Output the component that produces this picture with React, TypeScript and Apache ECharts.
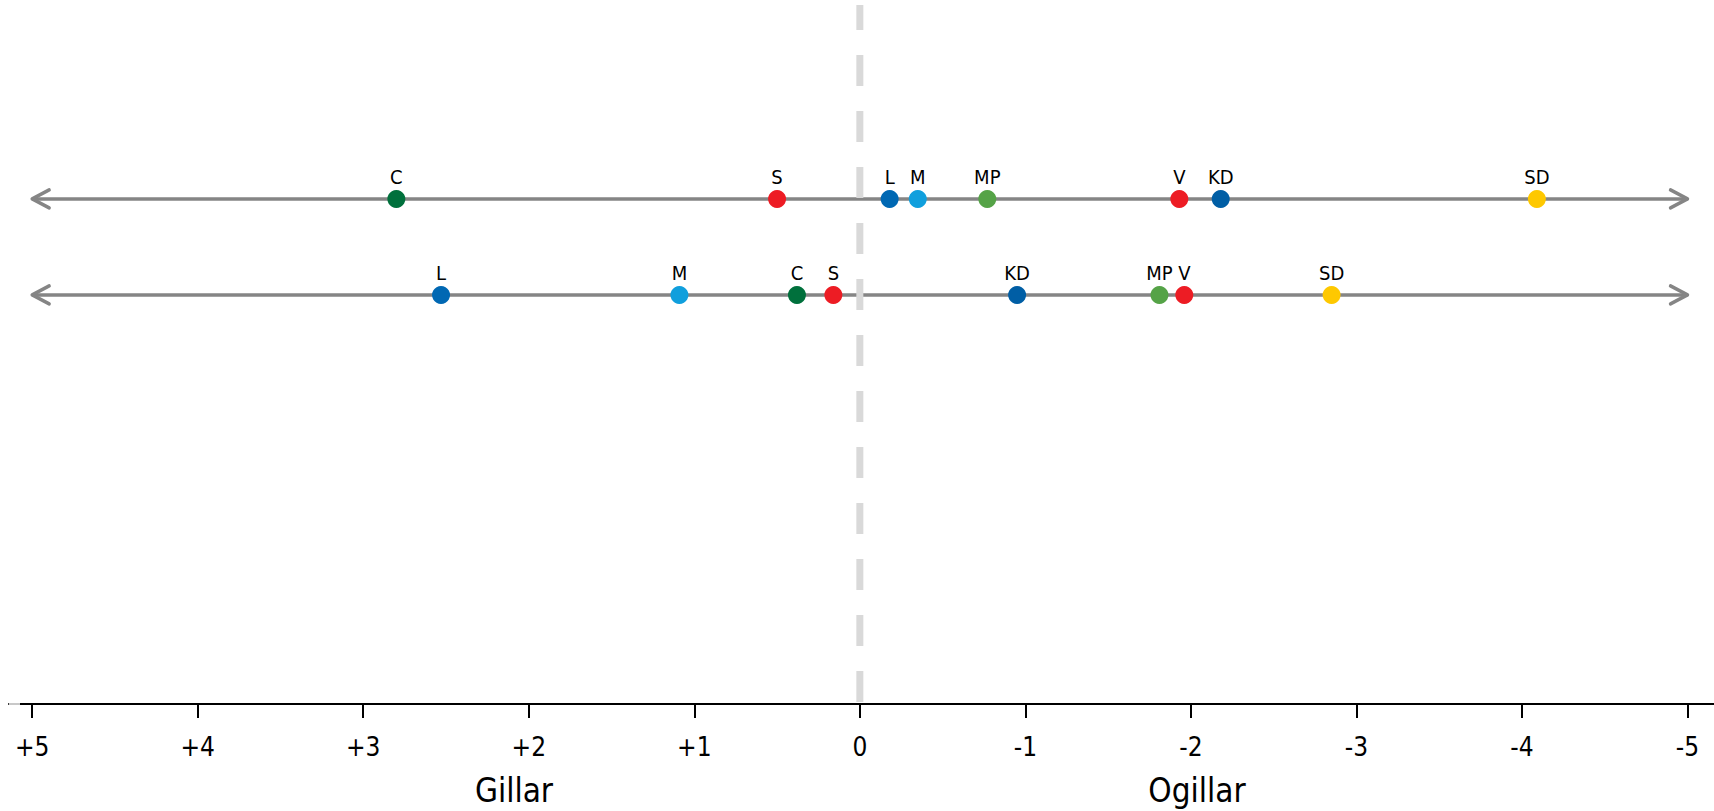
import React, { useEffect, useRef } from "react";
import * as echarts from "echarts";

// ---- data ----
const parties = ["C", "S", "L", "M", "MP", "V", "KD", "SD"];
const row1Values = [2.8, 0.5, -0.18, -0.35, -0.77, -1.93, -2.18, -4.09];
const row2Values = [0.38, 0.16, 2.53, 1.09, -1.81, -1.96, -0.95, -2.85];
const rowLevels = [2, 1];
const scaleEnds = [5, -5];
const tickValues = [5, 4, 3, 2, 1, 0, -1, -2, -3, -4, -5];
const sideLabels = ["Gillar", "Ogillar"];

// ---- styles ----
const partyColors = ["#00703c", "#ed1c24", "#0068b3", "#109fdd", "#55a347", "#ed1c24", "#005ea5", "#fec800"];
const X_MIN = -5.16;
const X_MAX = 5.14;
const Y_MIN = -3.26;
const Y_MAX = 4.02;
const NARROW = '"Liberation Sans Narrow", "Arial Narrow", "DejaVu Sans Condensed", sans-serif';
const ARROW_LEFT = "path://M18,0L0,9L18,18";
const ARROW_RIGHT = "path://M0,0L18,9L0,18";

export default function App() {
  const ref = useRef<HTMLDivElement>(null);

  useEffect(() => {
    document.body.style.margin = "0";
    if (!ref.current) return;
    const chart = echarts.init(ref.current, undefined, { renderer: "svg" });

    const rowLineSeries = rowLevels.map((lvl) => ({
      type: "line",
      data: scaleEnds.map((v) => [v, lvl]),
      showSymbol: false,
      symbol: "none",
      silent: true,
      z: 2,
      lineStyle: { color: "#858585", width: 3.5 },
    }));

    const arrowData: any[] = [];
    rowLevels.forEach((lvl) => {
      arrowData.push({ value: [scaleEnds[0], lvl], symbol: ARROW_LEFT, symbolOffset: [8.5, 0] });
      arrowData.push({ value: [scaleEnds[1], lvl], symbol: ARROW_RIGHT, symbolOffset: [-8.5, 0] });
    });

    const partySeries = parties.map((p, i) => ({
      type: "scatter",
      name: p,
      z: 5,
      symbol: "circle",
      symbolSize: 18,
      silent: true,
      itemStyle: { color: partyColors[i], opacity: 1 },
      label: {
        show: true,
        position: "top",
        distance: 3,
        formatter: "{a}",
        color: "#000",
        fontSize: 20,
        fontFamily: NARROW,
      },
      data: [
        [row1Values[i], rowLevels[0]],
        [row2Values[i], rowLevels[1]],
      ],
    }));

    chart.setOption({
      animation: false,
      backgroundColor: "#ffffff",
      grid: { left: 9, right: 0, top: 5, bottom: 107, containLabel: false },
      xAxis: {
        type: "value",
        min: X_MIN,
        max: X_MAX,
        inverse: true,
        splitLine: { show: false },
        axisLine: { show: true, onZero: false, lineStyle: { color: "#000", width: 2 } },
        axisTick: { show: true, customValues: tickValues, length: 14, lineStyle: { color: "#000", width: 2 } },
        axisLabel: {
          show: true,
          customValues: tickValues,
          margin: 30,
          fontSize: 26,
          fontFamily: '"DejaVu Sans Condensed", "Liberation Sans", sans-serif',
          color: "#000",
          formatter: (v: number) => (v > 0 ? "+" + v : String(v)),
        },
      },
      yAxis: {
        type: "value",
        min: Y_MIN,
        max: Y_MAX,
        splitLine: { show: false },
        axisLine: { show: false, onZero: false },
        axisLabel: { show: false },
        axisTick: { show: true, inside: true, length: 11, customValues: [Y_MIN], lineStyle: { color: "#c8c8c8", width: 2 } },
      },
      series: [
        ...rowLineSeries,
        {
          type: "line",
          data: [
            [0, Y_MIN],
            [0, Y_MAX],
          ],
          showSymbol: false,
          symbol: "none",
          silent: true,
          z: 3,
          lineStyle: { color: "#d9d9d9", width: 7, type: [31, 25], dashOffset: 54 },
        },
        {
          type: "scatter",
          data: arrowData,
          symbolSize: [17, 18],
          silent: true,
          z: 4,
          itemStyle: {
            color: "rgba(0,0,0,0)",
            borderColor: "#858585",
            borderWidth: 3.5,
            borderJoin: "round",
            borderCap: "round",
            opacity: 1,
          },
        },
        ...partySeries,
      ],
      graphic: [
        {
          type: "text",
          x: 514,
          y: 790,
          style: {
            text: sideLabels[0],
            fontSize: 33,
            fontFamily: NARROW,
            fill: "#000",
            textAlign: "center",
            textVerticalAlign: "middle",
          },
        },
        {
          type: "text",
          x: 1197,
          y: 790,
          style: {
            text: sideLabels[1],
            fontSize: 33,
            fontFamily: NARROW,
            fill: "#000",
            textAlign: "center",
            textVerticalAlign: "middle",
          },
        },
      ],
    });

    return () => chart.dispose();
  }, []);

  return <div ref={ref} style={{ width: 1714, height: 811 }} />;
}
